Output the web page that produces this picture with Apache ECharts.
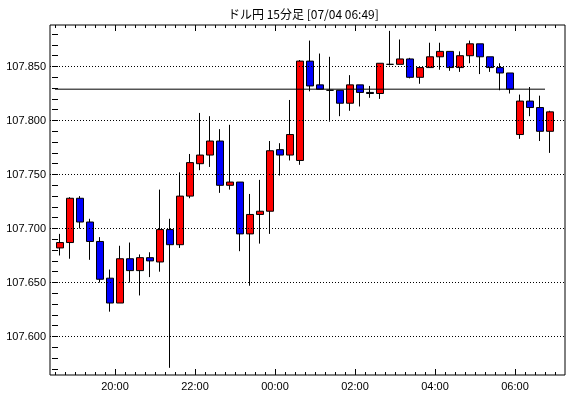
<!DOCTYPE html>
<html><head><meta charset="utf-8">
<script src="https://cdn.jsdelivr.net/npm/echarts@6/dist/echarts.min.js"></script>
<style>html,body{margin:0;padding:0;background:#fff}#c{width:570px;height:398px}</style>
</head><body><div id="c"></div>
<script>
// 15-minute candles from 18:30 to 06:45
const categories = ['18:30','18:45','19:00','19:15','19:30','19:45','20:00','20:15','20:30','20:45','21:00','21:15','21:30','21:45','22:00','22:15','22:30','22:45','23:00','23:15','23:30','23:45','00:00','00:15','00:30','00:45','01:00','01:15','01:30','01:45','02:00','02:15','02:30','02:45','03:00','03:15','03:30','03:45','04:00','04:15','04:30','04:45','05:00','05:15','05:30','05:45','06:00','06:15','06:30','06:45'];
const opens  = [107.682,107.687,107.728,107.706,107.688,107.654,107.631,107.672,107.661,107.673,107.669,107.699,107.685,107.730,107.760,107.768,107.781,107.740,107.743,107.695,107.713,107.716,107.773,107.768,107.763,107.855,107.833,107.828,107.828,107.816,107.833,107.826,107.825,107.852,107.852,107.857,107.840,107.849,107.859,107.864,107.849,107.860,107.871,107.859,107.849,107.844,107.787,107.818,107.812,107.790];
const closes = [107.687,107.728,107.706,107.688,107.653,107.631,107.672,107.661,107.673,107.670,107.699,107.685,107.730,107.761,107.768,107.781,107.740,107.743,107.695,107.713,107.716,107.772,107.768,107.787,107.855,107.832,107.829,107.828,107.816,107.833,107.826,107.825,107.853,107.852,107.857,107.840,107.849,107.859,107.864,107.849,107.860,107.871,107.859,107.849,107.844,107.829,107.818,107.812,107.790,107.808];
const lows   = [107.675,107.672,107.700,107.671,107.650,107.623,107.631,107.650,107.638,107.655,107.660,107.571,107.682,107.728,107.754,107.757,107.733,107.736,107.679,107.647,107.686,107.695,107.749,107.763,107.759,107.827,107.829,107.799,107.804,107.809,107.813,107.821,107.820,107.851,107.852,107.839,107.834,107.849,107.847,107.846,107.845,107.853,107.843,107.845,107.828,107.825,107.783,107.804,107.781,107.770];
const highs  = [107.695,107.729,107.730,107.709,107.692,107.662,107.684,107.687,107.676,107.678,107.736,107.709,107.752,107.769,107.807,107.804,107.792,107.796,107.743,107.732,107.745,107.781,107.779,107.819,107.856,107.874,107.862,107.859,107.828,107.842,107.833,107.832,107.853,107.883,107.875,107.858,107.849,107.872,107.872,107.864,107.864,107.874,107.871,107.859,107.853,107.844,107.824,107.831,107.823,107.809];
const refLine = 107.829;
const yTicks = [107.57,107.58,107.59,107.60,107.61,107.62,107.63,107.64,107.65,107.66,107.67,107.68,107.69,107.70,107.71,107.72,107.73,107.74,107.75,107.76,107.77,107.78,107.79,107.80,107.81,107.82,107.83,107.84,107.85,107.86,107.87,107.88];
const yLabels = [107.600,107.650,107.700,107.750,107.800,107.850];
const xLabelIdx = [6,14,22,30,38,46];
const xLabels = ['20:00','22:00','00:00','02:00','04:00','06:00'];
const title = 'ドル円 15分足 [07/04 06:49]';

const yMin = 107.56435, yMax = 107.88843;
const minorX = categories.map((c,i)=>i).concat([categories.length]);
const candleData = categories.map((c,i)=>[opens[i],closes[i],lows[i],highs[i]]);
const font = 'Liberation Sans';

function xVal(extra){
  return Object.assign({type:'value',gridIndex:0,min:-0.5,max:51,splitLine:{show:false},axisLine:{show:false},axisLabel:{show:false},axisTick:{show:false}},extra);
}
const option = {
  animation:false,
  backgroundColor:'#fff',
  title:{text:title,left:223,top:3,textStyle:{fontFamily:'Noto Sans CJK JP',fontSize:12,fontWeight:'normal',color:'#000'}},
  grid:[
    {left:50,top:25,width:515,height:350,show:true,borderColor:'#000',borderWidth:1,backgroundColor:'#fff'},
    {left:55,top:25,width:500,height:350}
  ],
  xAxis:[
    xVal({position:'bottom',axisTick:{show:true,inside:true,length:3,lineStyle:{color:'#000'},customValues:minorX}}),
    xVal({position:'bottom',axisTick:{show:true,inside:true,length:6,lineStyle:{color:'#000'},customValues:xLabelIdx},
          axisLabel:{show:true,customValues:xLabelIdx,margin:6,color:'#000',fontFamily:font,fontSize:11,
            formatter:function(v){const k=xLabelIdx.indexOf(Math.round(v));return k>=0?xLabels[k]:'';}}}),
    xVal({position:'top',axisTick:{show:true,inside:true,length:3,lineStyle:{color:'#000'},customValues:minorX}}),
    xVal({position:'top',axisTick:{show:true,inside:true,length:6,lineStyle:{color:'#000'},customValues:xLabelIdx}}),
    {type:'category',gridIndex:1,data:categories,boundaryGap:true,show:false}
  ],
  yAxis:[
    {type:'value',gridIndex:0,min:yMin,max:yMax,position:'left',splitLine:{show:false},axisLine:{show:false},
     axisTick:{show:true,inside:true,length:3,lineStyle:{color:'#000'},customValues:yTicks},
     axisLabel:{show:true,customValues:yLabels,margin:4,color:'#000',fontFamily:font,fontSize:11,formatter:v=>v.toFixed(3)}},
    {type:'value',gridIndex:0,min:yMin,max:yMax,position:'right',splitLine:{show:false},axisLine:{show:false},
     axisTick:{show:true,inside:true,length:3,lineStyle:{color:'#000'},customValues:yTicks},axisLabel:{show:false}},
    {type:'value',gridIndex:1,min:yMin,max:yMax,show:false,scale:true}
  ],
  series:[
    {type:'line',xAxisIndex:0,yAxisIndex:0,data:[[0,refLine],[categories.length-1,refLine]],symbol:'none',silent:true,
     lineStyle:{color:'#000',width:1},
     markLine:{silent:true,symbol:'none',label:{show:false},lineStyle:{color:'#000',width:1,type:[1,2]},
       data:yLabels.map(v=>({yAxis:v}))}},
    {type:'candlestick',xAxisIndex:4,yAxisIndex:2,data:candleData,barWidth:7,
     itemStyle:{color:'#ff0000',color0:'#0000ff',borderColor:'#000',borderColor0:'#000',borderColorDoji:'#000',borderWidth:1}}
  ]
};
echarts.init(document.getElementById('c'),null,{renderer:'canvas'}).setOption(option);
</script>
</body></html>
